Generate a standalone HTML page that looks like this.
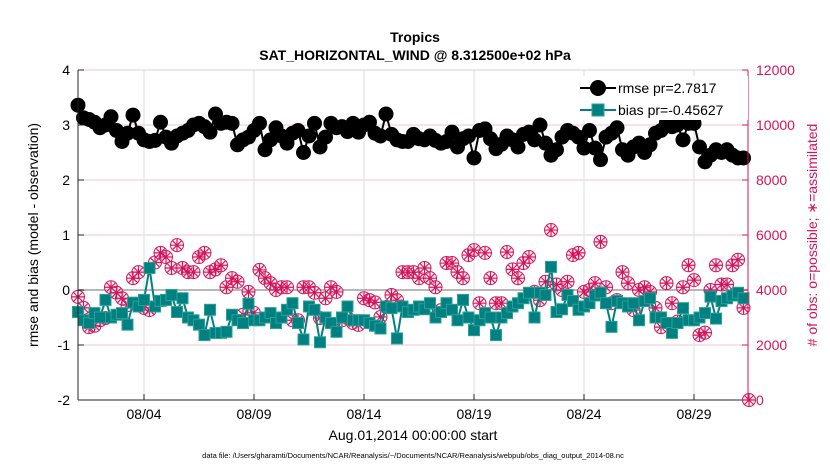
<!DOCTYPE html>
<html><head><meta charset="utf-8"><style>
body{margin:0;background:#fff;font-family:"Liberation Sans",sans-serif}
svg text{font-family:"Liberation Sans",sans-serif}
</style></head><body>
<svg id="chart" width="830" height="470" xmlns="http://www.w3.org/2000/svg">
<rect width="830" height="470" fill="#fff"/>
<text x="415" y="42" text-anchor="middle" font-size="14" font-weight="bold">Tropics</text>
<text x="415" y="60" text-anchor="middle" font-size="14" font-weight="bold">SAT_HORIZONTAL_WIND @ 8.312500e+02 hPa</text>
<g id="grid"></g><g id="marks"></g><g id="axes"></g>
<text x="413" y="440" text-anchor="middle" font-size="14">Aug.01,2014 00:00:00 start</text>
<text transform="translate(38,235) rotate(-90)" text-anchor="middle" font-size="14">rmse and bias (model - observation)</text>
<text transform="translate(817,235) rotate(-90)" text-anchor="middle" font-size="14" fill="#d4145a"># of obs: o=possible; ∗=assimilated</text>
<text x="413" y="458" text-anchor="middle" font-size="7.5">data file: /Users/gharamti/Documents/NCAR/Reanalysis/~/Documents/NCAR/Reanalysis/webpub/obs_diag_output_2014-08.nc</text>
<g>
<rect x="578" y="76" width="170" height="44" fill="#fff"/>
<line x1="580" y1="88" x2="616" y2="88" stroke="#000" stroke-width="2"/><circle cx="598" cy="88" r="8" fill="#000"/>
<text x="618" y="93" font-size="14">rmse pr=2.7817</text>
<line x1="580" y1="110" x2="616" y2="110" stroke="#008080" stroke-width="2"/><rect x="592" y="104" width="12" height="12" fill="#008080" stroke="#2aa198" stroke-width="1"/>
<text x="618" y="115" font-size="14">bias pr=-0.45627</text>
</g>
</svg>
<script>
const rmse=[3.36,3.13,3.1,3.05,2.95,3.0,3.15,2.9,2.7,2.85,3.18,2.85,2.73,2.7,2.72,3.05,2.78,2.67,2.8,2.85,2.9,3.0,3.03,2.97,2.87,3.2,3.03,3.05,3.03,2.64,
2.73,2.78,2.9,3.03,2.55,2.73,2.95,2.8,2.67,2.85,2.9,2.5,2.8,3.03,2.6,2.78,3.03,2.95,2.97,2.88,3.03,2.87,3.0,3.05,2.85,2.8,3.2,2.83,2.73,2.7,
2.7,2.83,2.75,2.73,2.8,2.72,2.67,2.7,2.87,2.6,2.75,2.8,2.4,2.9,2.93,2.75,2.57,2.65,2.8,2.73,2.6,2.83,2.87,2.73,3.0,2.67,2.45,2.55,2.78,2.9,
2.85,2.78,2.58,2.9,2.58,2.37,2.78,2.85,2.95,2.55,2.45,2.6,2.67,2.5,2.64,2.85,2.9,3.05,2.97,3.0,2.73,3.03,3.03,2.6,2.33,2.45,2.55,2.5,2.55,2.45,2.4,2.4];
const bias=[-0.4,-0.55,-0.6,-0.42,-0.5,-0.18,-0.5,-0.45,-0.42,-0.63,-0.23,-0.3,-0.18,0.4,-0.3,-0.2,-0.18,-0.09,-0.4,-0.15,-0.5,-0.55,-0.63,-0.82,-0.36,-0.78,-0.78,-0.76,-0.45,-0.55,
-0.6,-0.25,-0.55,-0.55,-0.5,-0.42,-0.6,-0.5,-0.36,-0.24,-0.6,-0.9,-0.3,-0.36,-0.95,-0.5,-0.6,-0.76,-0.5,-0.3,-0.55,-0.55,-0.55,-0.6,-0.65,-0.7,-0.3,-0.33,-0.88,-0.3,
-0.4,-0.36,-0.3,-0.35,-0.24,-0.5,-0.4,-0.24,-0.36,-0.55,-0.18,-0.5,-0.73,-0.55,-0.42,-0.5,-0.82,-0.5,-0.42,-0.3,-0.24,-0.15,-0.05,-0.5,-0.05,-0.09,0.42,-0.4,-0.35,-0.09,
-0.2,-0.36,-0.3,-0.24,-0.1,-0.05,-0.24,-0.67,-0.2,-0.24,-0.3,-0.24,-0.55,-0.2,-0.15,-0.5,-0.5,-0.6,-0.78,-0.6,-0.33,-0.55,-0.55,-0.5,-0.42,-0.12,-0.52,-0.2,-0.15,-0.1,-0.05,-0.15];
const possible=[3750,3350,2650,2700,2900,2980,4100,3900,3700,3450,4430,4650,3350,3270,5000,5350,5200,4800,5630,4800,4650,4650,5200,5350,4650,4750,4900,4100,4430,4300,3100,
3930,3170,4730,4430,4250,4000,4100,4100,2900,2900,4100,4100,3900,2980,3700,4100,3930,2900,2980,2800,2730,3700,3630,3550,3020,3380,3820,3630,4650,4650,
4650,4430,4800,4430,4100,3270,4980,4980,4650,4430,5270,5450,3520,5350,4430,3520,3520,5380,4750,4430,4980,5200,3930,3630,4300,6180,4200,4000,4300,5270,
5350,3930,4000,4250,5750,4100,3520,3630,4650,4250,3270,4000,4100,3930,3350,2650,4250,3520,2850,4100,4900,4360,2360,2450,4000,4900,4200,4200,4900,5100,3350,0];
const assimilated=[3750,3350,2650,2700,2900,2980,4100,3900,3700,3450,4430,4650,3350,3270,5000,5350,5200,4800,5630,4800,4650,4650,5200,5350,4650,4750,4900,4100,4430,4300,3100,
3930,3170,4730,4430,4250,4000,4100,4100,2900,2900,4100,4100,3900,2980,3700,4100,3930,2900,2980,2800,2730,3700,3630,3550,3020,3380,3820,3630,4650,4650,
4650,4430,4800,4430,4100,3270,4980,4980,4650,4430,5270,5450,3520,5350,4430,3520,3520,5380,4750,4430,4980,5200,3930,3630,4300,6180,4200,4000,4300,5270,
5350,3930,4000,4250,5750,4100,3520,3630,4650,4250,3270,4000,4100,3930,3350,2650,4250,3520,2850,4100,4900,4360,2360,2450,4000,4900,4200,4200,4900,5100,3350,0];
const leftTicks=[-2,-1,0,1,2,3,4];
const rightTicks=[0,2000,4000,6000,8000,10000,12000];
const dateTicks=["08/04","08/09","08/14","08/19","08/24","08/29"];
const dateTickDays=[3,8,13,18,23,28];

const NS="http://www.w3.org/2000/svg";
const X0=78,X1=748,Y0=70,Y1=400;
const xDay=d=>X0+d*22;
const xIdx=i=>xDay(i*0.25);
const yL=v=>Y1-(v+2)/6*(Y1-Y0);
const yR=v=>Y1-v/12000*(Y1-Y0);
function mk(tag,attrs,parent){const e=document.createElementNS(NS,tag);for(const k in attrs)e.setAttribute(k,attrs[k]);parent.appendChild(e);return e;}
const grid=document.getElementById('grid'),marks=document.getElementById('marks'),axes=document.getElementById('axes');

rightTicks.forEach(t=>{const l=mk('line',{x1:X0,x2:X1,y1:yR(t),y2:yR(t),stroke:'#f2c6d6','stroke-width':1},grid);

});
dateTickDays.forEach(d=>{const l=mk('line',{x1:xDay(d),x2:xDay(d),y1:Y0,y2:Y1,stroke:'#dcdcdc','stroke-width':1},grid);

});
const z=mk('line',{x1:X0,x2:X1,y1:yL(0),y2:yL(0),stroke:'#b8b8b8','stroke-width':2},grid);



possible.forEach((v,i)=>{const c=mk('circle',{cx:xIdx(i),cy:yR(v),r:6.5,fill:'#fdeef3','fill-opacity':0.5,stroke:'#d4145a','stroke-width':1},marks);

});
assimilated.forEach((v,i)=>{const x=xIdx(i),y=yR(v);let d='';for(let k=0;k<4;k++){const a=k*Math.PI/4+Math.PI/2;d+=`M${x-6*Math.cos(a)},${y-6*Math.sin(a)}L${x+6*Math.cos(a)},${y+6*Math.sin(a)}`;}
const p=mk('path',{d:d,stroke:'#d4145a','stroke-width':1.2,fill:'none'},marks);

});

const bl=mk('polyline',{points:bias.map((v,i)=>xIdx(i)+','+yL(v)).join(' '),fill:'none',stroke:'#008080','stroke-width':2},marks);


bias.forEach((v,i)=>{const r=mk('rect',{x:xIdx(i)-5.5,y:yL(v)-5.5,width:11,height:11,fill:'#008080',stroke:'#2aa198','stroke-width':1},marks);

});
const rl=mk('polyline',{points:rmse.map((v,i)=>xIdx(i)+','+yL(v)).join(' '),fill:'none',stroke:'#000','stroke-width':2},marks);


rmse.forEach((v,i)=>{const c=mk('circle',{cx:xIdx(i),cy:yL(v),r:7.5,fill:'#000'},marks);

});

const la=mk('line',{x1:X0,x2:X0,y1:Y0,y2:Y1,stroke:'#262626','stroke-width':1},axes);


const ba=mk('line',{x1:X0,x2:X1,y1:Y1,y2:Y1,stroke:'#262626','stroke-width':1},axes);


const ra=mk('line',{x1:X1,x2:X1,y1:Y0,y2:Y1,stroke:'#d4145a','stroke-width':1},axes);


leftTicks.forEach(t=>{mk('line',{x1:X0,x2:X0+6,y1:yL(t),y2:yL(t),stroke:'#262626'},axes);
const tx=mk('text',{x:X0-8,y:yL(t)+5,'text-anchor':'end','font-size':14},axes);tx.textContent=t;

});
rightTicks.forEach(t=>{mk('line',{x1:X1-6,x2:X1,y1:yR(t),y2:yR(t),stroke:'#d4145a'},axes);
const tx=mk('text',{x:X1+8,y:yR(t)+5,'font-size':14,fill:'#d4145a'},axes);tx.textContent=t;

});
dateTicks.forEach((t,i)=>{const x=xDay(dateTickDays[i]);mk('line',{x1:x,x2:x,y1:Y1-6,y2:Y1,stroke:'#262626'},axes);
const tx=mk('text',{x:x,y:Y1+19,'text-anchor':'middle','font-size':14},axes);tx.textContent=t;

});
</script>
</body></html>
